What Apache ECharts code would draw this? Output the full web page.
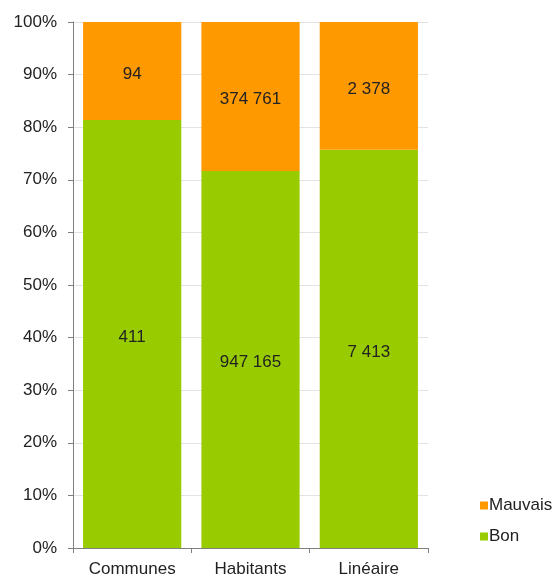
<!DOCTYPE html>
<html>
<head>
<meta charset="utf-8">
<style>html,body{margin:0;padding:0;background:#fff;}#c{width:559px;height:576px;}</style>
<script src="https://cdn.jsdelivr.net/npm/echarts@6/dist/echarts.min.js"></script>
</head>
<body>
<div id="c"></div>
<script>
var categories = ['Communes', 'Habitants', 'Linéaire'];
var bonValues = [411, 947165, 7413];
var mauvaisValues = [94, 374761, 2378];
var yTickLabels = ['0%', '10%', '20%', '30%', '40%', '50%', '60%', '70%', '80%', '90%', '100%'];

function fmt(v) { return String(v).replace(/\B(?=(\d{3})+(?!\d))/g, ' '); }
function pct(arr, i) { return arr[i] / (bonValues[i] + mauvaisValues[i]) * 100; }

var bonData = categories.map(function (c, i) { return { value: pct(bonValues, i), raw: bonValues[i] }; });
var mauvaisData = categories.map(function (c, i) { return { value: pct(mauvaisValues, i), raw: mauvaisValues[i] }; });

var font = '"Liberation Sans", Arial, sans-serif';
var fs = 17;
var chart = echarts.init(document.getElementById('c'));
chart.setOption({
  animation: false,
  grid: { left: 73, right: 131, top: 22, bottom: 28, outerBoundsMode: 'none', containLabel: false },
  legend: {
    orient: 'vertical', left: 475, top: 492, itemWidth: 8, itemHeight: 8, itemGap: 14,
    icon: 'rect', data: ['Mauvais', 'Bon'],
    textStyle: { fontFamily: font, fontSize: fs, color: '#222', padding: [0, 0, 0, -4] }
  },
  xAxis: {
    type: 'category', data: categories,
    axisLine: { lineStyle: { color: '#7f7f7f', width: 1 } },
    axisTick: { show: true, length: 5, lineStyle: { color: '#7f7f7f' } },
    axisLabel: { fontFamily: font, fontSize: fs, color: '#222', margin: 13 }
  },
  yAxis: {
    type: 'value', min: 0, max: 100, interval: 10,
    axisLine: { show: true, lineStyle: { color: '#7f7f7f', width: 1 } },
    axisTick: { show: true, length: 5, lineStyle: { color: '#7f7f7f' } },
    splitLine: { lineStyle: { color: '#e3e3e3' } },
    axisLabel: { fontFamily: font, fontSize: fs, color: '#222', margin: 16,
      formatter: function (v) { return yTickLabels[Math.round(v / 10)]; } }
  },
  series: [
    { name: 'Bon', type: 'bar', stack: 't', data: bonData, barCategoryGap: '17%',
      itemStyle: { color: '#99CC00' },
      label: { show: true, position: 'inside', offset: [0, 3], fontFamily: font, fontSize: fs, color: '#222',
        formatter: function (p) { return fmt(p.data.raw); } } },
    { name: 'Mauvais', type: 'bar', stack: 't', data: mauvaisData, barCategoryGap: '17%',
      itemStyle: { color: '#FF9900' },
      label: { show: true, position: 'inside', offset: [0, 3], fontFamily: font, fontSize: fs, color: '#222',
        formatter: function (p) { return fmt(p.data.raw); } } }
  ]
});
</script>
</body>
</html>
